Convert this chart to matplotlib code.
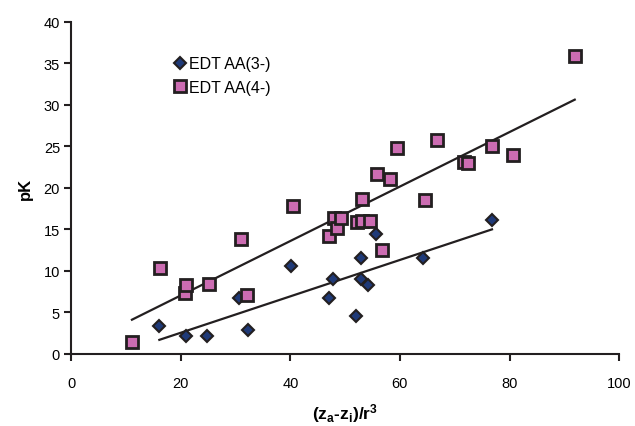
import numpy as np
import matplotlib
matplotlib.use('Agg')
import matplotlib.pyplot as plt

plt.rcParams['font.family'] = ['Liberation Sans', 'DejaVu Sans']
plt.rcParams['mathtext.default'] = 'regular'

# EDTAA(3-) の点
x3 = [16.1, 20.9, 24.8, 30.7, 32.2, 40.1, 47.1, 47.7, 52.0, 52.9, 52.9, 54.1, 55.7, 64.3, 76.8]
y3 = [3.4, 2.1, 2.1, 6.7, 2.9, 10.6, 6.7, 9.0, 4.5, 11.5, 9.0, 8.3, 14.4, 11.5, 16.1]

# EDTAA(4-) の点
x4 = [11.1, 16.2, 20.8, 21.0, 25.1, 31.0, 32.1, 40.4, 47.1, 47.9, 48.5, 49.3, 52.1, 53.0,
      53.1, 54.6, 55.8, 56.8, 58.2, 59.5, 64.5, 66.8, 71.7, 72.5, 76.8, 80.6, 91.9]
y4 = [1.4, 10.3, 7.3, 8.3, 8.4, 13.8, 7.1, 17.8, 14.2, 16.3, 15.1, 16.3, 15.9, 18.7,
      16.0, 16.0, 21.6, 12.5, 21.1, 24.8, 18.5, 25.8, 23.1, 23.0, 25.0, 23.9, 35.9]

labels = ['EDT AA(3-)', 'EDT AA(4-)']
ink = '#231f20'

fig = plt.figure(figsize=(6.35, 4.27), dpi=100)
ax = fig.add_axes([0.112, 0.169, 0.863, 0.778])

ax.plot(x3, y3, linestyle='none', marker='D', markersize=6, markerfacecolor='#1f3a78',
        markeredgecolor=ink, markeredgewidth=1.5, label=labels[0], zorder=3)
ax.plot(x4, y4, linestyle='none', marker='s', markersize=9, markerfacecolor='#cc6cb2',
        markeredgecolor=ink, markeredgewidth=2, label=labels[1], zorder=3)

# 線形近似
for xs, ys in [(x3, y3), (x4, y4)]:
    k, b = np.polyfit(xs, ys, 1)
    xx = np.array([min(xs), max(xs)])
    ax.plot(xx, k * xx + b, color=ink, linewidth=1.6, zorder=2)

ax.set_xlim(0, 100)
ax.set_ylim(0, 40)
ax.set_xticks(range(0, 101, 20))
ax.set_yticks(range(0, 41, 5))

for s in ['top', 'right']:
    ax.spines[s].set_visible(False)
for s in ['left', 'bottom']:
    ax.spines[s].set_color(ink)
    ax.spines[s].set_linewidth(1.5)
ax.tick_params(direction='out', length=5, width=1.5, color=ink, labelsize=10.5, pad=11)
ax.tick_params(axis='y', pad=3)

ax.set_xlabel('(z$_a$-z$_i$)/r$^3$', fontsize=12.5, fontweight='bold', labelpad=8)
ax.set_ylabel('pK', fontsize=12, fontweight='bold', labelpad=8)

ax.legend(loc='upper left', bbox_to_anchor=(0.172, 0.915), frameon=False, fontsize=11.5,
          handletextpad=0.1, borderaxespad=0, labelspacing=0.55, handlelength=1)

fig.savefig('out.png', dpi=100)
